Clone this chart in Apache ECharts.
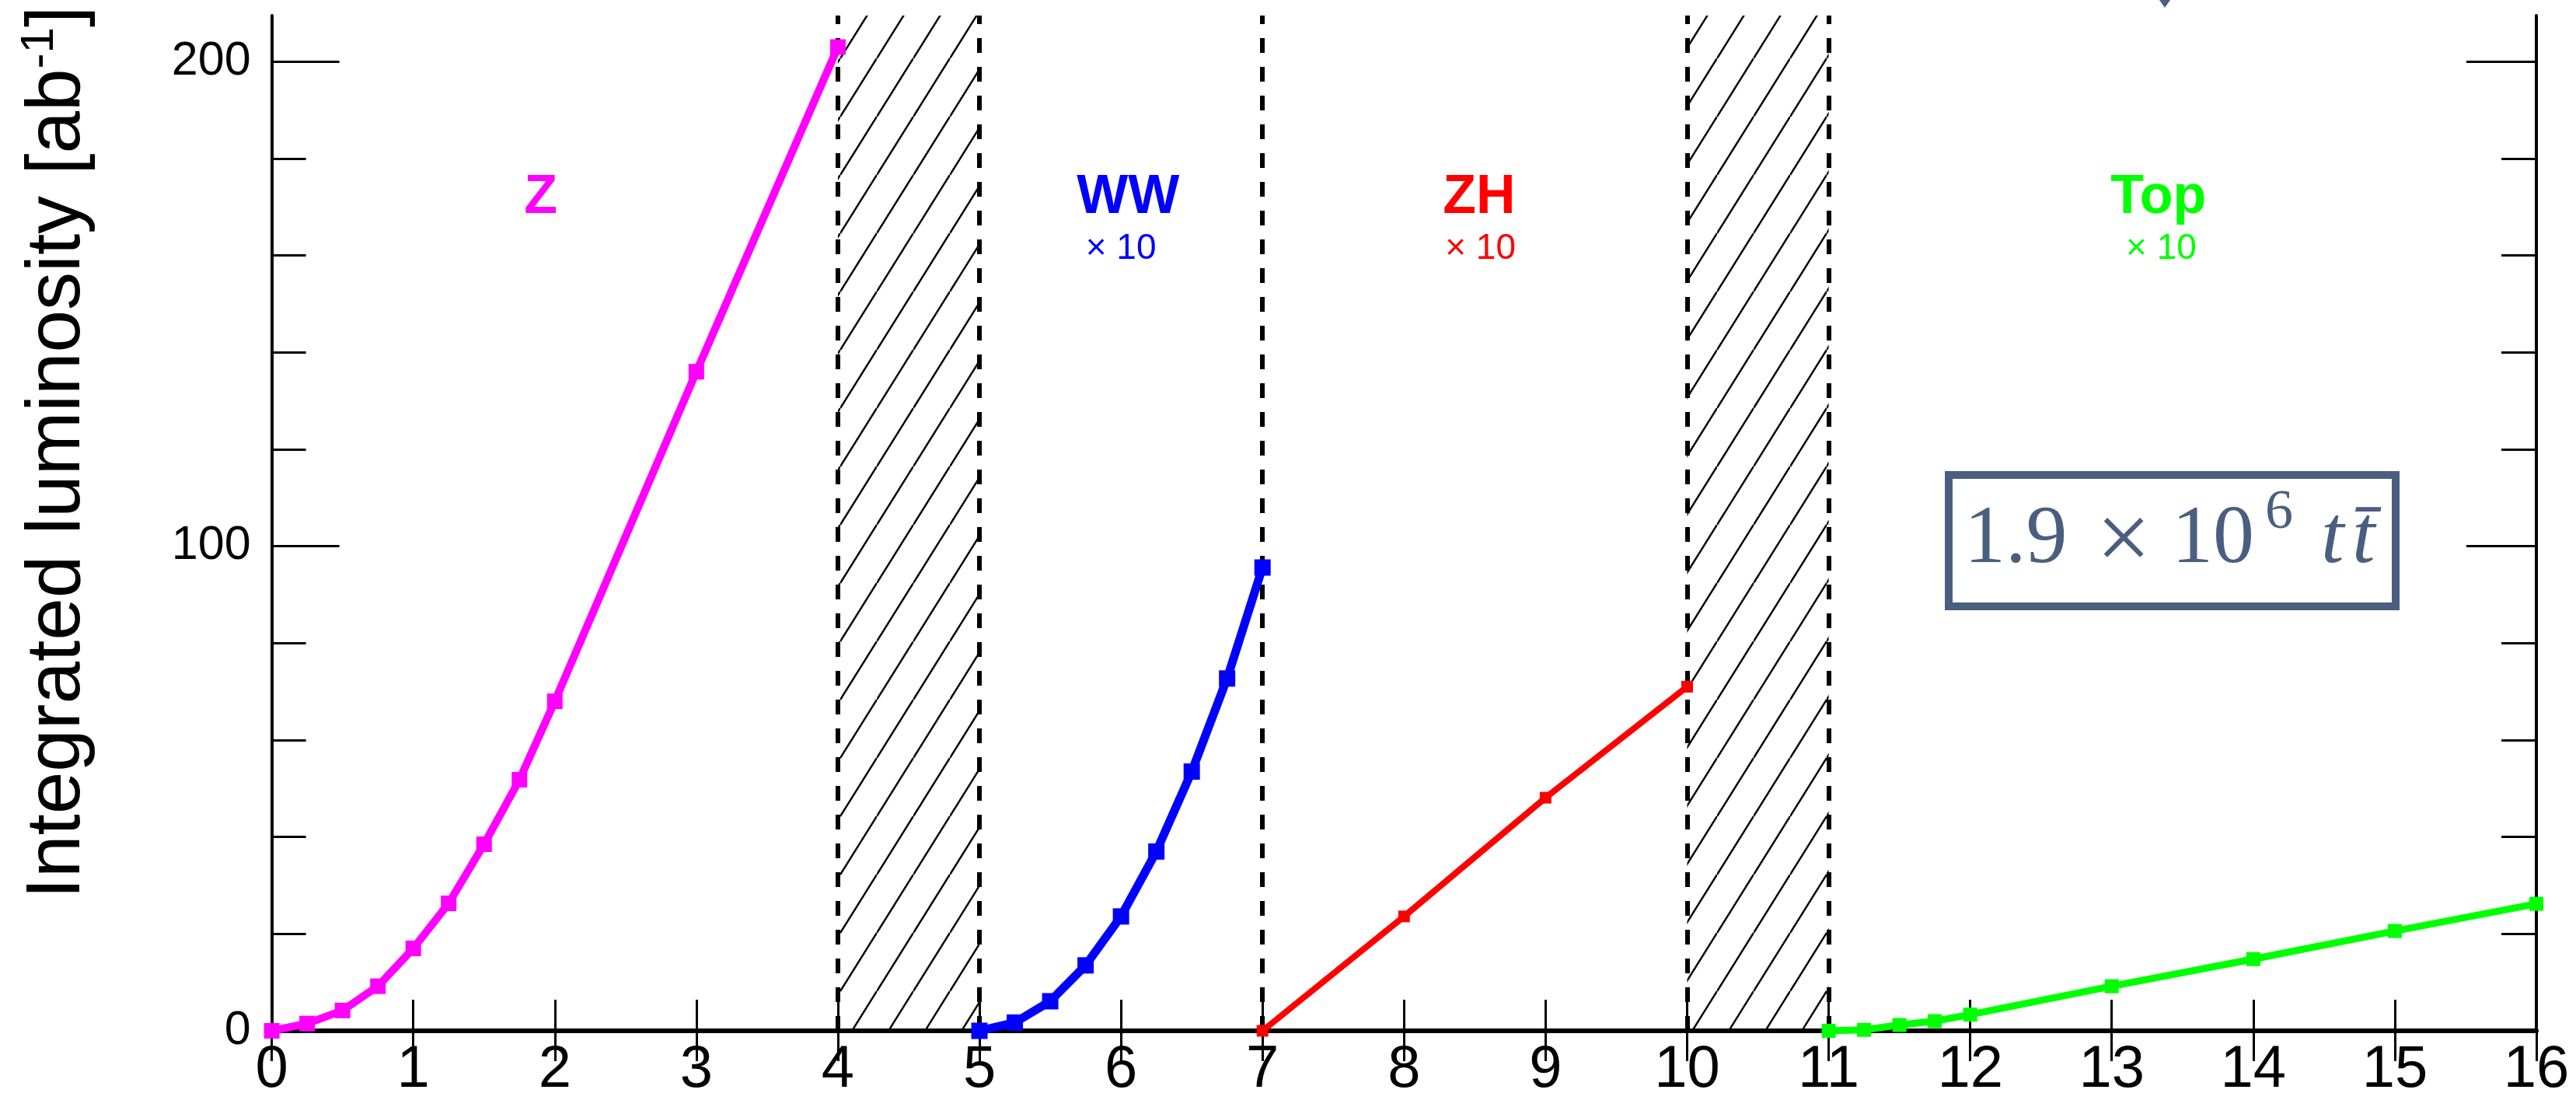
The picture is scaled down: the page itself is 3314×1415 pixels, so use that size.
<!DOCTYPE html>
<html>
<head>
<meta charset="utf-8">
<script src="https://cdn.jsdelivr.net/npm/echarts@6/dist/echarts.min.js"></script>
<style>
  html, body { margin: 0; padding: 0; background: #fff; }
  #chart { width: 3314px; height: 1415px; }
</style>
</head>
<body>
<div id="chart"></div>
<script>
// run time (x) vs integrated luminosity; WW, ZH and Top drawn x10
const zX = [0, 0.25, 0.5, 0.75, 1, 1.25, 1.5, 1.75, 2, 3, 4]
const zLumi = [0, 1.5, 4.2, 9.2, 17, 26.3, 38.5, 51.8, 68, 136, 203]
const wwX = [5, 5.25, 5.5, 5.75, 6, 6.25, 6.5, 6.75, 7]
const wwLumi = [0, 1.7, 6.1, 13.5, 23.6, 37, 53.5, 72.7, 95.6]
const zhX = [7, 8, 9, 10]
const zhLumi = [0, 23.6, 48.1, 71]
const topX = [11, 11.25, 11.5, 11.75, 12, 13, 14, 15, 16]
const topLumi = [0, 0.2, 1.2, 2.0, 3.35, 9.2, 14.8, 20.6, 26.2]

const yMajor = [0, 100, 200]
const yMinor = [20, 40, 60, 80, 120, 140, 160, 180]
const shutdowns = [[4, 5], [10, 11]]
const boundaries = [4, 5, 7, 10, 11]

const stageNames = ['Z', 'WW', 'ZH', 'Top']
const stageScale = ['', '× 10', '× 10', '× 10']
const stageColors = ['#ff00ff', '#0000ff', '#ff0000', '#00ff00']
// where the stage names sit, in data units
const stageNameAt = [[1.9, 171.9], [6.05, 171.9], [8.53, 171.9], [13.33, 171.9]]
const stageScaleAt = [[0, 161.4], [6.0, 161.4], [8.54, 161.4], [13.35, 161.4]]

const SANS = 'Liberation Sans, Arial, sans-serif'
const SERIF = 'Liberation Serif, Times New Roman, serif'
const SLATE = '#4a5f80'

// diagonal hatching tile for the shutdown periods
function hatchTile () {
  const w = 47, h = 75
  const c = document.createElement('canvas')
  c.width = w
  c.height = h
  const ctx = c.getContext('2d')
  ctx.strokeStyle = '#000'
  ctx.lineWidth = 2.5
  for (let k = -1; k <= 1; k++) {
    ctx.beginPath()
    ctx.moveTo(0, h + k * h)
    ctx.lineTo(w, k * h)
    ctx.stroke()
  }
  return c
}

function stage (name, xs, ys, color, width, size) {
  return {
    name,
    type: 'line',
    data: xs.map((x, i) => [x, ys[i]]),
    clip: false,
    symbol: 'rect',
    symbolSize: size,
    showSymbol: true,
    lineStyle: { color, width },
    itemStyle: { color },
    z: 5
  }
}

const yRange = { min: 0, max: 209.5 }

function yAx (position, values, length, withLine, withLabel) {
  return {
    type: 'value', position, ...yRange,
    axisLine: { show: withLine, lineStyle: { color: '#000', width: 4 } },
    axisTick: { show: true, inside: true, length, customValues: values, lineStyle: { color: '#000', width: 3 } },
    axisLabel: withLabel
      ? { show: true, customValues: yMajor, margin: 27, fontSize: 61, color: '#000', fontFamily: SANS }
      : { show: false },
    splitLine: { show: false }
  }
}

const chart = echarts.init(document.getElementById('chart'))

chart.setOption({
  animation: false,
  backgroundColor: '#fff',
  grid: { left: 349.6, right: 51, top: 20, bottom: 82, containLabel: false },
  xAxis: [
    {
      type: 'value', position: 'bottom', min: 0, max: 16, interval: 1,
      axisLine: { lineStyle: { color: '#000', width: 6 } },
      axisTick: { inside: true, length: 40, lineStyle: { color: '#000', width: 3 } },
      axisLabel: { margin: 13, fontSize: 76, color: '#000', fontFamily: SANS },
      splitLine: { show: false }
    },
    {
      type: 'value', position: 'top', min: 0, max: 16, interval: 1,
      axisLine: { lineStyle: { color: '#000', width: 4 } },
      axisTick: { inside: true, length: 39, lineStyle: { color: '#000', width: 3 } },
      axisLabel: { show: false },
      splitLine: { show: false }
    }
  ],
  yAxis: [
    yAx('left', yMajor, 87, true, true),
    yAx('left', yMinor, 44, false, false),
    yAx('right', yMajor, 90, true, false),
    yAx('right', yMinor, 45, false, false)
  ],
  series: [
    {
      type: 'line', data: [], silent: true,
      markArea: {
        silent: true,
        itemStyle: { color: { image: hatchTile(), repeat: 'repeat' }, opacity: 1 },
        data: shutdowns.map(([a, b]) => [{ xAxis: a }, { xAxis: b }])
      },
      markLine: {
        silent: true, symbol: 'none', label: { show: false },
        lineStyle: { color: '#000', width: 6, type: [19, 18] },
        data: boundaries.map(x => ({ xAxis: x }))
      },
      z: 3
    },
    stage('Z', zX, zLumi, stageColors[0], 10, 20),
    stage('WW', wwX, wwLumi, stageColors[1], 11, 21),
    stage('ZH', zhX, zhLumi, stageColors[2], 8, 15),
    stage('Top', topX, topLumi, stageColors[3], 9, 18)
  ]
})

const px = p => chart.convertToPixel({ xAxisIndex: 0, yAxisIndex: 0 }, p)

const graphics = []
stageNames.forEach((name, i) => {
  const [x, y] = px(stageNameAt[i])
  graphics.push({
    type: 'text', x, y, z: 10,
    style: { text: name, fill: stageColors[i], font: `bold 70px ${SANS}`, align: 'center', verticalAlign: 'middle' }
  })
  if (stageScale[i]) {
    const [sx, sy] = px(stageScaleAt[i])
    graphics.push({
      type: 'text', x: sx, y: sy, z: 10,
      style: { text: stageScale[i], fill: stageColors[i], font: `46px ${SANS}`, align: 'center', verticalAlign: 'middle' }
    })
  }
})

// y axis title
graphics.push({
  type: 'text', x: 75, y: 582, rotation: Math.PI / 2, z: 10,
  style: {
    text: '{n|Integrated luminosity [ab}{s|-1}{n|]}',
    align: 'center', verticalAlign: 'middle',
    rich: {
      n: { fontSize: 98, fontFamily: SANS, fill: '#000', lineHeight: 108 },
      s: { fontSize: 60, fontFamily: SANS, fill: '#000', lineHeight: 60, verticalAlign: 'top' }
    }
  }
})

// event count box
graphics.push({
  type: 'rect', z: 10,
  shape: { x: 2507, y: 611, width: 575, height: 169 },
  style: { fill: '#fff', stroke: SLATE, lineWidth: 10 }
})
const boxText = (text, x, y, font) => ({
  type: 'text', x, y, z: 11,
  style: { text, font, fill: SLATE, align: 'left', verticalAlign: 'middle' }
})
graphics.push(boxText('1.9', 2527, 695, `106px ${SERIF}`))
graphics.push({ type: 'text', x: 2732, y: 700, z: 11, style: { text: '×', font: `125px ${SERIF}`, fill: SLATE, align: 'center', verticalAlign: 'middle' } })
graphics.push(boxText('10', 2794, 695, `106px ${SERIF}`))
graphics.push(boxText('6', 2914, 660, `72px ${SERIF}`))
graphics.push(boxText('t', 2986, 695, `italic 106px ${SERIF}`))
graphics.push(boxText('t\u0304', 3026, 695, `italic 106px ${SERIF}`))

// cut-off marker at the very top
graphics.push({
  type: 'polygon', z: 10,
  shape: { points: [[2778, 0], [2792, 0], [2785, 10]] },
  style: { fill: SLATE }
})

chart.setOption({ graphic: graphics })
</script>
</body>
</html>
